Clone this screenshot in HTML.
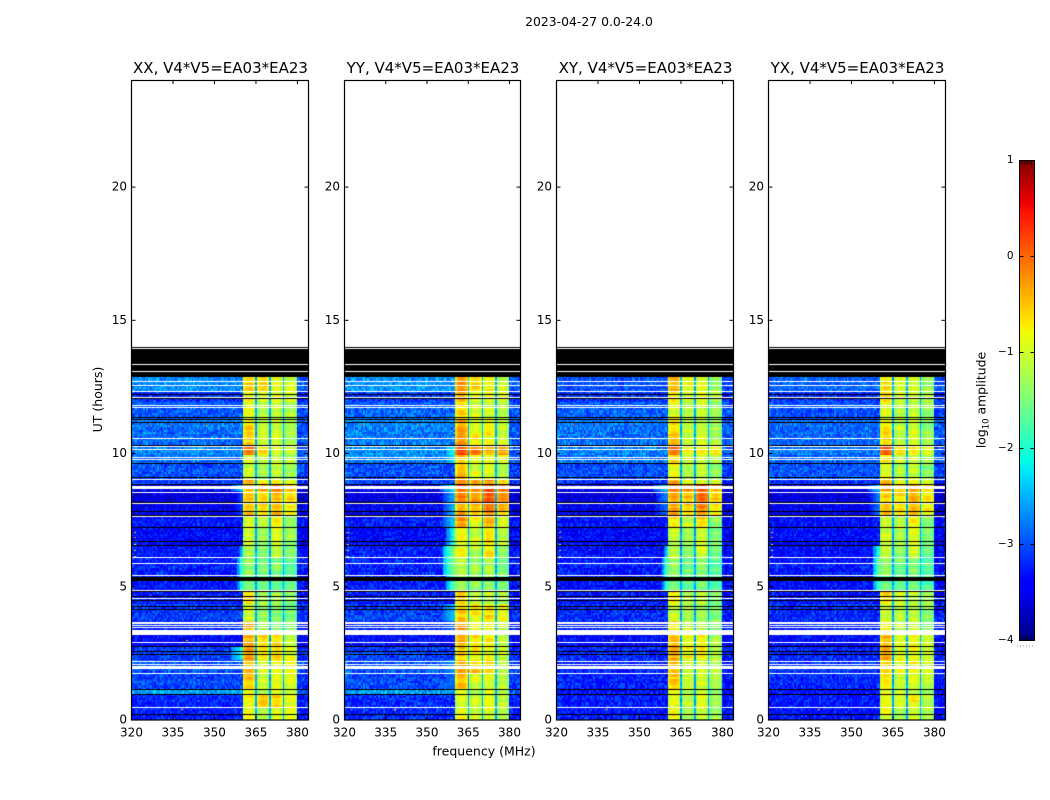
<!DOCTYPE html>
<html lang="en">
<head>
<meta charset="utf-8">
<title>2023-04-27 0.0-24.0</title>
<style>
html,body{margin:0;padding:0;background:#fff;}
#stage{position:relative;width:1050px;height:800px;overflow:hidden;background:#fff;}
#stage canvas{position:absolute;top:80px;display:block;}
#stage svg{position:absolute;left:0;top:0;}
text{font-family:"DejaVu Sans","Liberation Sans",sans-serif;fill:#000;}
</style>
</head>
<body>
<div id="stage">
<canvas id="c0" width="177" height="640" style="left:131px"></canvas>
<canvas id="c1" width="176" height="640" style="left:344px"></canvas>
<canvas id="c2" width="177" height="640" style="left:556px"></canvas>
<canvas id="c3" width="177" height="640" style="left:768px"></canvas>
<svg id="fig" width="1050" height="800" viewBox="0 0 1050 800">
<defs>
<linearGradient id="jet" x1="0" y1="1" x2="0" y2="0">
<stop offset="0" stop-color="#00007f"/><stop offset="0.11" stop-color="#0000ff"/>
<stop offset="0.125" stop-color="#0000ff"/><stop offset="0.34" stop-color="#00dbff"/>
<stop offset="0.375" stop-color="#00ffe6"/><stop offset="0.5" stop-color="#7dff7a"/>
<stop offset="0.64" stop-color="#f0ff06"/><stop offset="0.66" stop-color="#ffea00"/>
<stop offset="0.89" stop-color="#ff1300"/><stop offset="0.91" stop-color="#f00000"/>
<stop offset="1" stop-color="#7f0000"/>
</linearGradient>
</defs>
<text x="589" y="26" font-size="12.4" text-anchor="middle">2023-04-27 0.0-24.0</text>
<text x="484" y="755.5" font-size="12.5" text-anchor="middle">frequency (MHz)</text>
<text transform="translate(102,399.5) rotate(-90)" font-size="12.5" text-anchor="middle">UT (hours)</text>
<text transform="translate(985.5,400) rotate(-90)" font-size="12.4" text-anchor="middle">log<tspan font-size="8.5" dy="3">10</tspan><tspan dy="-3"> amplitude</tspan></text>
<rect x="1019.5" y="160.5" width="15" height="480" fill="url(#jet)" stroke="#000" stroke-width="1"/>
<line x1="1017" y1="646" x2="1035" y2="646" stroke="#999" stroke-width="1" stroke-dasharray="1 2"/>
<g id="axes"></g>
<g id="cbar"></g>
</svg>
</div>
<script>
// ----- axis data -----
const panelNames = ["XX", "YY", "XY", "YX"];
const panelTitleSuffix = ", V4*V5=EA03*EA23";
const freqTicks = [320, 335, 350, 365, 380];
const hourTicks = [0, 5, 10, 15, 20];
const colorbarTicks = [1, 0, -1, -2, -3, -4];

// ----- heatmap data: log10 amplitude per time segment -----
// hours at which each segment starts
const segmentStart = [0,0.47,0.96,1.1,1.74,2.23,2.72,3.17,3.66,4.3,4.82,5.42,6.06,6.55,7.2,7.64,8.16,8.54,8.8,9.06,9.62,9.9,10.3,11.0,11.3,11.9,12.3];
const dataEndHour = 12.84;
// each row: background, band 360-365, 365-370, 370-375, 375-380, shoulder level, shoulder width (MHz)
const levelsXX = [
[-3.25,-0.8,-1.15,-0.95,-0.9,-9,0],[-3.2,-0.75,-0.55,-0.55,-0.9,-9,0],[-2.6,-0.8,-1.15,-1.0,-0.95,-9,0],
[-3.05,-0.5,-1.0,-0.9,-0.85,-9,0],[-3.0,-0.4,-0.95,-0.95,-0.8,-9,0],[-3.1,-0.25,-0.7,-0.5,-0.9,-2.1,4],
[-3.4,-0.4,-0.6,-0.55,-1.0,-9,0],[-3.2,-0.45,-1.2,-1.3,-1.4,-9,0],[-3.1,-1.0,-1.3,-1.4,-1.5,-9,0],
[-3.25,-0.6,-1.2,-1.2,-1.35,-9,0],[-3.3,-1.5,-1.6,-1.6,-1.7,-1.9,1.5],[-3.25,-1.35,-1.5,-1.45,-1.6,-1.8,1.5],
[-3.3,-1.2,-1.4,-1.0,-1.4,-2.3,1],[-3.4,-1.0,-1.25,-0.95,-1.3,-9,0],[-3.3,-1.0,-1.1,-0.75,-1.4,-9,0],
[-3.5,-0.45,-0.6,-0.4,-0.75,-3.0,2],[-3.6,-0.5,-0.6,-0.45,-0.6,-3.0,2],[-3.5,-0.3,-0.2,-0.1,-0.3,-2.3,4],
[-3.1,-0.4,-0.8,-0.8,-0.9,-9,0],[-3.0,-1.0,-1.2,-1.1,-1.3,-9,0],[-2.85,-0.9,-1.05,-1.0,-1.2,-9,0],
[-2.75,-0.1,-0.6,-0.8,-1.0,-9,0],[-2.85,-0.6,-1.0,-0.9,-1.2,-9,0],[-2.8,-0.7,-1.05,-0.95,-1.2,-9,0],
[-2.95,-0.85,-1.1,-1.0,-1.15,-9,0],[-3.15,-0.75,-0.9,-0.9,-0.95,-9,0],[-2.7,-0.55,-0.6,-0.85,-1.0,-9,0]
];
const levelsYY = [
[-3.2,-0.85,-1.1,-0.9,-1.15,-9,0],[-3.2,-0.85,-1.05,-0.95,-1.15,-9,0],[-2.6,-0.85,-1.15,-0.95,-1.2,-9,0],
[-3.05,-0.5,-0.95,-0.9,-1.1,-2.8,3],[-3.0,-0.25,-0.55,-0.6,-1.0,-2.6,4],[-3.1,-0.55,-0.8,-0.8,-1.05,-9,0],
[-3.4,-0.4,-0.7,-0.65,-1.1,-9,0],[-3.25,-0.25,-0.7,-0.85,-1.05,-2.8,3],[-3.1,-0.55,-0.75,-0.65,-0.8,-2.4,4],
[-3.25,-0.6,-1.0,-1.05,-1.25,-9,0],[-3.3,-1.3,-1.4,-1.4,-1.55,-1.6,3],[-3.25,-1.15,-1.3,-1.2,-1.45,-1.35,4],
[-3.3,-0.85,-1.15,-0.7,-1.3,-1.35,4],[-3.4,-0.75,-1.0,-0.65,-1.15,-1.9,3],[-3.3,-0.3,-0.85,-0.3,-0.95,-2.3,4],
[-3.5,-0.3,-0.5,-0.2,-0.55,-2.4,4],[-3.6,-0.15,-0.25,0.05,-0.25,-2.4,4],[-3.5,0.05,-0.05,0.3,-0.1,-2.1,5],
[-3.1,-0.15,-0.45,-0.3,-0.6,-9,0],[-3.0,-0.45,-0.95,-0.9,-1.1,-9,0],[-2.8,-0.45,-0.8,-0.85,-0.9,-2.2,3],
[-2.7,0.2,-0.2,-0.35,-0.35,-2.1,3],[-2.8,-0.3,-0.8,-0.8,-1.0,-9,0],[-2.75,-0.35,-0.85,-0.85,-1.05,-9,0],
[-2.9,-0.6,-1.0,-0.95,-1.1,-9,0],[-3.1,-0.45,-0.8,-0.85,-1.0,-9,0],[-2.7,-0.25,-0.65,-0.8,-1.0,-9,0]
];
const levelsXY = [
[-3.3,-0.8,-1.15,-0.95,-1.3,-9,0],[-3.3,-0.85,-1.05,-0.95,-1.3,-9,0],[-3.3,-0.85,-1.1,-1.05,-1.35,-9,0],
[-3.25,-0.5,-1.0,-0.95,-1.2,-9,0],[-3.2,-0.55,-1.0,-1.0,-1.2,-9,0],[-3.2,-0.35,-0.75,-0.7,-1.2,-9,0],
[-3.4,-0.5,-0.8,-0.75,-1.25,-9,0],[-3.25,-0.55,-1.05,-1.05,-1.35,-9,0],[-3.2,-1.0,-1.2,-1.2,-1.5,-9,0],
[-3.3,-0.7,-1.1,-1.1,-1.4,-9,0],[-3.35,-1.55,-1.6,-1.55,-1.75,-1.8,1.5],[-3.3,-1.3,-1.5,-1.45,-1.7,-1.6,1.5],
[-3.35,-1.1,-1.35,-1.0,-1.5,-2.2,1],[-3.4,-1.0,-1.2,-0.9,-1.45,-9,0],[-3.35,-0.7,-1.0,-0.55,-1.35,-9,0],
[-3.5,-0.35,-0.55,-0.2,-0.7,-2.8,4],[-3.6,-0.35,-0.45,-0.1,-0.55,-2.7,4],[-3.5,-0.1,-0.15,0.15,-0.2,-2.3,5],
[-3.15,-0.3,-0.85,-0.85,-0.95,-9,0],[-3.0,-0.85,-1.15,-1.05,-1.4,-9,0],[-2.85,-0.65,-0.95,-0.95,-1.25,-9,0],
[-2.75,-0.05,-0.7,-0.7,-0.7,-9,0],[-2.85,-0.5,-1.0,-0.95,-1.25,-9,0],[-2.8,-0.65,-1.1,-1.0,-1.3,-9,0],
[-2.95,-0.85,-1.1,-1.0,-1.35,-9,0],[-3.15,-0.7,-0.95,-0.9,-1.15,-9,0],[-3.0,-0.45,-0.8,-0.9,-1.3,-9,0]
];
const levelsYX = [
[-3.3,-0.85,-1.15,-1.0,-1.2,-9,0],[-3.3,-0.8,-0.85,-0.75,-1.15,-9,0],[-3.3,-0.85,-1.1,-1.05,-1.2,-9,0],
[-3.2,-0.75,-1.05,-0.95,-1.1,-9,0],[-3.15,-0.55,-0.85,-0.8,-1.05,-9,0],[-3.2,-0.35,-0.85,-0.85,-1.1,-9,0],
[-3.4,-0.45,-0.85,-0.8,-1.1,-9,0],[-3.25,-0.7,-1.05,-1.05,-1.3,-9,0],[-3.2,-0.95,-1.1,-1.15,-1.4,-9,0],
[-3.3,-0.7,-1.05,-1.1,-1.3,-9,0],[-3.35,-1.5,-1.55,-1.55,-1.75,-1.8,2],[-3.3,-1.35,-1.5,-1.45,-1.7,-1.5,2],
[-3.35,-1.0,-1.35,-0.95,-1.55,-1.9,2],[-3.4,-1.0,-1.2,-0.9,-1.5,-9,0],[-3.35,-0.9,-1.05,-0.75,-1.4,-9,0],
[-3.5,-0.5,-0.6,-0.35,-0.8,-2.8,3],[-3.6,-0.6,-0.65,-0.4,-0.7,-2.7,3],[-3.5,-0.3,-0.4,-0.15,-0.4,-2.3,4],
[-3.15,-0.45,-0.9,-0.9,-1.0,-9,0],[-3.0,-0.9,-1.15,-1.1,-1.4,-9,0],[-2.9,-0.7,-1.05,-1.0,-1.3,-9,0],
[-2.8,0.05,-0.55,-0.8,-1.0,-9,0],[-2.9,-0.6,-1.05,-1.0,-1.3,-9,0],[-2.85,-0.7,-1.1,-1.05,-1.35,-9,0],
[-3.0,-0.85,-1.15,-1.05,-1.35,-9,0],[-3.15,-0.7,-1.0,-1.0,-1.25,-9,0],[-2.9,-0.6,-0.9,-1.0,-1.3,-9,0]
];
// hand-picked fine texture offsets applied to cells
const speckle = [12,-31,5,-18,27,-6,34,-22,9,-38,16,-3,41,-27,-11,23,-35,7,19,-14,30,-42,2,25,-9,-29,38,-17,11,-24,
 4,32,-40,15,-7,21,-33,28,-12,-1,36,-26,8,-20,44,-15,-37,17,1,-30,24,-5,35,-44,13,-19,29,-8,6,-36,
 20,-13,39,-25,-2,26,-41,10,33,-16,-28,18,-10,43,-34,3,22,-21,14,-39,31,-4,37,-23,-46,28,-12,9,-32,40,-6,16,-18];
// bandpass roll-off across the ten channels of each 5 MHz band
const bandShape = [-0.1,-0.26,-0.1,-0.01,0.03,0.05,0.03,-0.01,-0.1,-0.26];
const speckleAmp = 0.9;
const bandSpeckleAmp = 0.14;
const gapChannelLevel = -2.55;
const gapChannels = [90, 100, 110];
const channelCount = 128;
const channelWidthMHz = 0.5;
const rowHours = 0.08;
const bandEdgeLow = 360.5;
const bandEdgeHigh = 380;
const bandOrigin = 360;
const bandWidthMHz = 5;
// no-data (white) and flagged (black) strips, in hours
const whiteLines = [13.33,13.07,12.68,12.53,12.29,12.10,11.80,11.69,10.54,10.26,10.14,9.84,9.76,9.01,8.53,8.12,7.61,6.09,5.86,5.42,4.85,4.55,3.51,3.46,2.90,2.18,2.07,1.73,0.46];
const blackLines = [13.97,12.04,11.32,11.24,11.14,10.30,9.60,9.07,8.81,8.16,7.80,7.64,7.21,6.67,6.52,5.21,4.81,4.63,4.45,4.23,4.11,2.72,2.54,2.43,1.13,0.95,0.20];
const whiteBlockStart = [8.66,3.58,3.17,1.91];
const whiteBlockEnd = [8.77,3.65,3.35,2.02];
const blackBlockStart = [13.34,13.09,12.86,12.18,5.24];
const blackBlockEnd = [13.91,13.30,13.04,12.23,5.35];
// isolated bright cells: hour, frequency, level
const hotHour = [11.29,11.29,11.29,11.09,11.09,11.09,7.05,6.85,6.6,6.35,6.15,0.4,3.0];
const hotFreq = [334,340,357,326,334,347,321,321,321,321,321,338,340];
const hotLevel = [0.1,-0.6,0,0.2,0.2,0.2,-0.5,-0.2,-1,-1.2,-1.2,-0.5,-0.4];

// ----- geometry -----
const PANEL_LEFT = [131, 344, 556, 768];
const PANEL_WIDTH = [177, 176, 177, 177];
const PANEL_TOP = 80, PANEL_BOTTOM = 719.5;
const MHZ_MIN = 320, MHZ_MAX = 384, HOUR_MAX = 24;
const xScale = (f, w) => (f - MHZ_MIN) / (MHZ_MAX - MHZ_MIN) * w;
const yScale = h => PANEL_BOTTOM - PANEL_TOP - h / HOUR_MAX * (PANEL_BOTTOM - PANEL_TOP);
const cbY = v => 160.5 + (1 - v) / 5 * 480;

function jet(t) {
  t = Math.max(0, Math.min(1, t));
  let r, g, b;
  r = t < .35 ? 0 : t < .66 ? (t - .35) / .31 : t < .89 ? 1 : 1 - (t - .89) / .11 * .5;
  g = t < .125 ? 0 : t < .375 ? (t - .125) / .25 : t < .64 ? 1 : t < .91 ? 1 - (t - .64) / .27 : 0;
  b = t < .11 ? .5 + t / .11 * .5 : t < .34 ? 1 : t < .65 ? 1 - (t - .34) / .31 : 0;
  return "rgb(" + Math.round(r * 255) + "," + Math.round(g * 255) + "," + Math.round(b * 255) + ")";
}
const levelColor = v => jet((v + 4) / 5);

function segmentIndex(h) {
  let s = 0;
  for (let i = 0; i < segmentStart.length; i++) if (h >= segmentStart[i]) s = i;
  return s;
}
function pickSpeckle(a, b, k) {
  return speckle[(a * a * 3 + b * b * 5 + a * b * 7 + a * 31 + b * 17 + k * 11) % speckle.length] / 100;
}

function cellLevel(row, f, c, p, r) {
  const raw = pickSpeckle(r, c, p);
  const sp = raw < 0 ? raw * 0.7 : raw;
  if (f >= bandEdgeLow && f < bandEdgeHigh) {
    if (gapChannels.indexOf(c) >= 0) return gapChannelLevel + raw * 0.4;
    const bandIdx = Math.floor((f - bandOrigin) / bandWidthMHz);
    const pos = Math.round((f - bandOrigin - bandIdx * bandWidthMHz) / channelWidthMHz);
    const rowSp = pickSpeckle(r, bandIdx * 5, p + 3);
    return row[1 + bandIdx] + bandShape[pos] + (rowSp * 1.5 + raw * 0.5) * bandSpeckleAmp * 2;
  }
  if (f < bandEdgeLow && row[6] > 0 && f >= bandOrigin - row[6]) {
    const base = row[0] + (row[5] - row[0]) * (1 - (bandOrigin - f) / row[6] * 0.6);
    return base + raw * speckleAmp * 0.3;
  }
  let base = row[0];
  if (f >= bandEdgeHigh) base = Math.min(base, -2.9) - 0.08;
  return base + sp * speckleAmp;
}

const panelLevels = [levelsXX, levelsYY, levelsXY, levelsYX];

function strip(ctx, w, h0, h1, color) {
  const y0 = Math.round(yScale(h1));
  const y1 = Math.max(y0 + 1, Math.round(yScale(h0)));
  ctx.fillStyle = color;
  ctx.fillRect(0, y0, w, y1 - y0);
}

panelLevels.forEach((levels, p) => {
  const w = PANEL_WIDTH[p];
  const ctx = document.getElementById("c" + p).getContext("2d");
  ctx.fillStyle = "#fff";
  ctx.fillRect(0, 0, w, 640);
  const rows = Math.round(dataEndHour / rowHours);
  for (let r = 0; r < rows; r++) {
    const h = r * rowHours;
    const row = levels[segmentIndex(h + rowHours / 2)];
    const y0 = Math.round(yScale(h + rowHours));
    const y1 = Math.round(yScale(h));
    for (let c = 0; c < channelCount; c++) {
      const f = MHZ_MIN + c * channelWidthMHz;
      const x0 = Math.round(xScale(f, w));
      const x1 = Math.round(xScale(f + channelWidthMHz, w));
      ctx.fillStyle = levelColor(cellLevel(row, f, c, p, r));
      ctx.fillRect(x0, y0, x1 - x0, y1 - y0);
    }
  }
  hotHour.forEach((h, i) => {
    ctx.fillStyle = levelColor(hotLevel[i]);
    ctx.fillRect(Math.round(xScale(hotFreq[i], w)), Math.round(yScale(h)), 2, 1);
  });
  blackBlockStart.forEach((h, i) => strip(ctx, w, h, blackBlockEnd[i], "#000"));
  whiteBlockStart.forEach((h, i) => strip(ctx, w, h, whiteBlockEnd[i], "#fff"));
  blackLines.forEach(h => strip(ctx, w, h, h + 0.02, "#000"));
  whiteLines.forEach(h => strip(ctx, w, h, h + 0.02, "#fff"));
});

// ----- axes -----
const NS = "http://www.w3.org/2000/svg";
const axesLayer = document.getElementById("axes");
function tickLine(parent, x1, y1, x2, y2) {
  const l = document.createElementNS(NS, "line");
  l.setAttribute("x1", x1); l.setAttribute("y1", y1);
  l.setAttribute("x2", x2); l.setAttribute("y2", y2);
  l.setAttribute("stroke", "#000");
  l.setAttribute("stroke-width", "1");
  
  
  parent.appendChild(l);
}
function label(parent, x, y, size, anchor, str) {
  const t = document.createElementNS(NS, "text");
  t.setAttribute("x", x); t.setAttribute("y", y);
  t.setAttribute("font-size", size);
  t.setAttribute("text-anchor", anchor);
  
  
  t.textContent = str;
  parent.appendChild(t);
}
panelNames.forEach((name, p) => {
  const left = PANEL_LEFT[p] + 0.5;
  const w = PANEL_WIDTH[p];
  const g = document.createElementNS(NS, "g");
  
  
  axesLayer.appendChild(g);

  const frame = document.createElementNS(NS, "rect");
  frame.setAttribute("x", left);
  frame.setAttribute("y", PANEL_TOP + 0.5);
  frame.setAttribute("width", w);
  frame.setAttribute("height", PANEL_BOTTOM - PANEL_TOP);
  frame.setAttribute("fill", "none");
  frame.setAttribute("stroke", "#000");
  frame.setAttribute("stroke-width", "1.2");
  
  
  g.appendChild(frame);

  const title = document.createElementNS(NS, "text");
  title.setAttribute("x", left + w / 2 + 0.5);
  title.setAttribute("y", 73);
  title.setAttribute("font-size", "15");
  title.setAttribute("text-anchor", "middle");
  
  
  title.textContent = name + panelTitleSuffix;
  g.appendChild(title);

  freqTicks.forEach(f => {
    const x = left + xScale(f, w);
    tickLine(g, x, PANEL_TOP, x, PANEL_TOP + 4);
    tickLine(g, x, PANEL_BOTTOM, x, PANEL_BOTTOM - 4);
    label(g, x, 736.5, 12, "middle", String(f));
  });
  hourTicks.forEach(h => {
    const y = PANEL_TOP + 0.5 + yScale(h);
    tickLine(g, left, y, left + 4, y);
    tickLine(g, left + w, y, left + w - 4, y);
    label(g, left - 4.5, y + 3.5, 12, "end", String(h));
  });
});

const cbarLayer = document.getElementById("cbar");
colorbarTicks.forEach(v => {
  const y = cbY(v);
  tickLine(cbarLayer, 1019.5, y, 1023.5, y);
  tickLine(cbarLayer, 1034.5, y, 1030.5, y);
  label(cbarLayer, 1013.5, y + 2.5, 10.5, "end", String(v).replace("-", "\u2212"));
});
[1022, 1025, 1028, 1031].forEach(x => {
  tickLine(cbarLayer, x, 160.5, x, 164.5);
  tickLine(cbarLayer, x, 640.5, x, 636.5);
});
</script>
</body>
</html>
